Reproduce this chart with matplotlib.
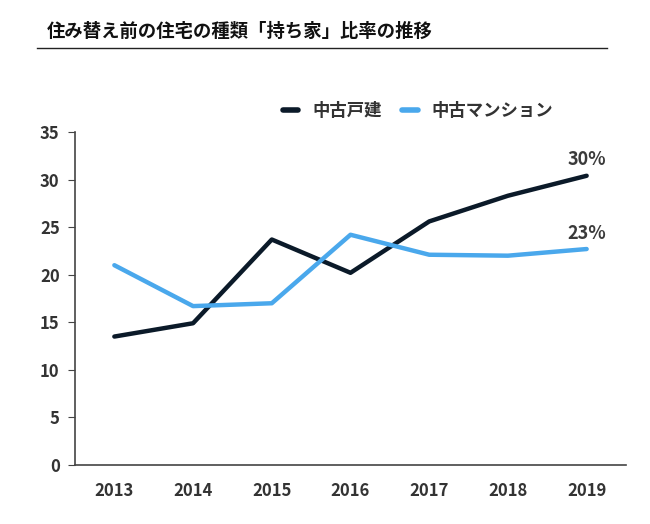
import matplotlib
matplotlib.use('Agg')
import matplotlib.pyplot as plt
from matplotlib.lines import Line2D

plt.rcParams['font.family'] = ['Noto Sans CJK JP', 'DejaVu Sans']

# data
years = ['2013', '2014', '2015', '2016', '2017', '2018', '2019']
kodate = [13.5, 14.9, 23.7, 20.2, 25.6, 28.3, 30.4]      # 中古戸建
mansion = [21.0, 16.7, 17.0, 24.2, 22.1, 22.0, 22.7]     # 中古マンション
series_names = ['中古戸建', '中古マンション']
end_labels = ['30%', '23%']

dark = '#0b1a29'
blue = '#4aa8ec'
text_col = '#333333'

fig = plt.figure(figsize=(6.5, 5.24), dpi=100)
ax = fig.add_axes([75 / 650, 59 / 524, 551 / 650, 333 / 524])

x = list(range(len(years)))
ax.plot(x, kodate, color=dark, lw=3.2, solid_capstyle='round', label=series_names[0])
ax.plot(x, mansion, color=blue, lw=3.2, solid_capstyle='round', label=series_names[1])

# value labels at the last point
ax.annotate(end_labels[0], (x[-1], kodate[-1]), xytext=(0, 5), textcoords='offset points',
            ha='center', va='bottom', fontsize=13, color='#3a3a3a', fontweight='bold')
ax.annotate(end_labels[1], (x[-1], mansion[-1]), xytext=(0, 4), textcoords='offset points',
            ha='center', va='bottom', fontsize=13, color='#3a3a3a', fontweight='bold')

ax.set_xlim(-0.5, len(years) - 0.5)
ax.set_ylim(0, 35)
ax.set_yticks(range(0, 36, 5))
ax.set_xticks(x)
ax.set_xticklabels(years)

for s in ['top', 'right']:
    ax.spines[s].set_visible(False)
for s in ['left', 'bottom']:
    ax.spines[s].set_color('#444444')
    ax.spines[s].set_linewidth(1.2)

ax.tick_params(axis='y', length=5, color='#444444', labelsize=12, labelcolor=text_col, pad=6)
ax.tick_params(axis='x', length=0, labelsize=12, labelcolor=text_col, pad=12)
for lab in ax.get_xticklabels() + ax.get_yticklabels():
    lab.set_fontweight('bold')

handles = [Line2D([], [], color=dark, lw=4, solid_capstyle='round'),
           Line2D([], [], color=blue, lw=4, solid_capstyle='round')]
leg = fig.legend(handles, series_names, loc='center', bbox_to_anchor=(418 / 650, 1 - 111 / 524),
                 ncol=2, frameon=False, handlelength=0.9, handletextpad=0.8, columnspacing=1.2,
                 prop={'size': 12.5, 'weight': 'bold'})
for t in leg.get_texts():
    t.set_color(text_col)

# title and rule underneath
fig.text(47 / 650, 1 - 31 / 524, '住み替え前の住宅の種類「持ち家」比率の推移', fontsize=13.2,
         fontweight='bold', color='#111111', va='center', ha='left')
fig.add_artist(Line2D([37 / 650, 607 / 650], [1 - 48 / 524, 1 - 48 / 524],
                      transform=fig.transFigure, color='#222222', lw=1))

plt.savefig('out.png', dpi=100)
